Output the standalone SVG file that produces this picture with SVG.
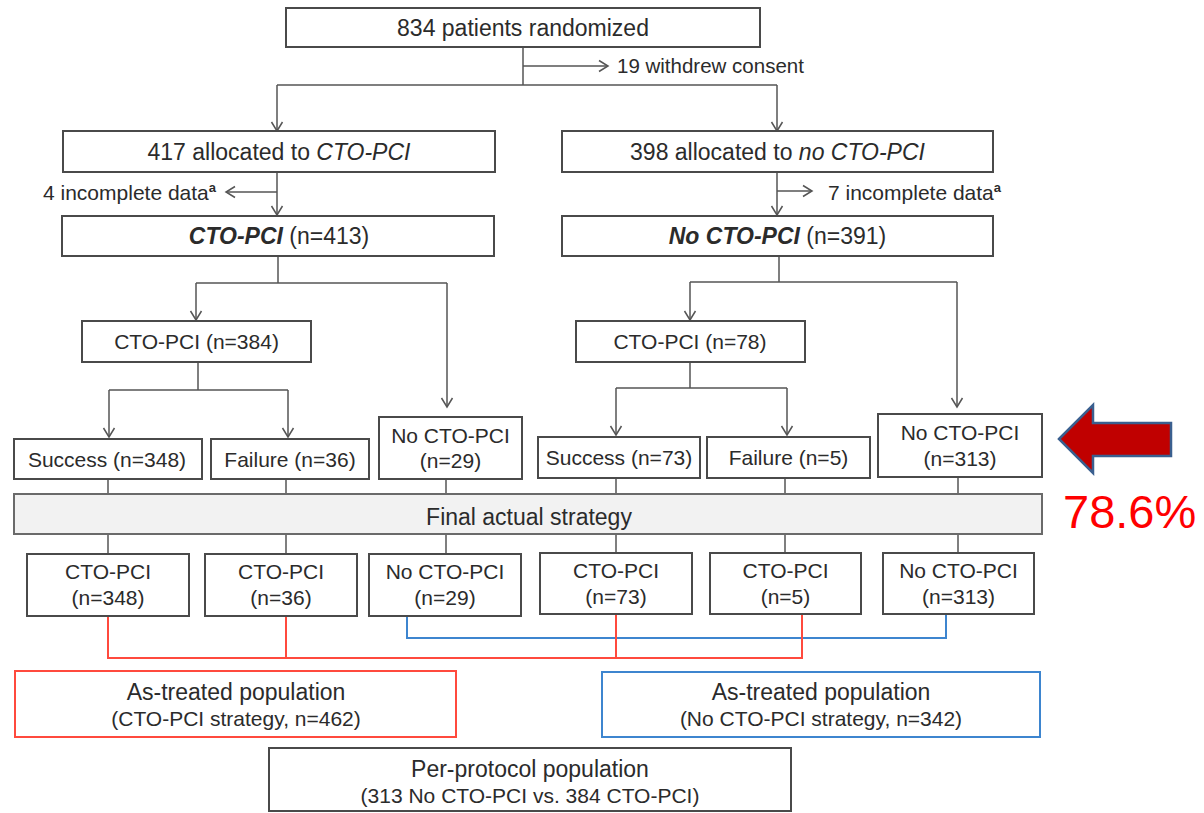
<svg xmlns="http://www.w3.org/2000/svg" width="1204" height="813" viewBox="0 0 1204 813">
<style>
text{font-family:"Liberation Sans",Arial,sans-serif;fill:#2b2b2b}
.box{fill:#fff;stroke:#4a4a4a;stroke-width:2}
.t23{font-size:23px;text-anchor:middle}
.t21{font-size:21px;text-anchor:middle}
.t20{font-size:20.5px}
.sub{font-size:21px;text-anchor:middle}
.sup{font-size:13px;font-weight:bold}
.ln{fill:none;stroke:#555;stroke-width:1.5}
.arr{marker-end:url(#ah)}
.red{fill:none;stroke:#ff4a3d;stroke-width:2}
.blue{fill:none;stroke:#3d85cf;stroke-width:2}
</style>
<defs>
<marker id="ah" viewBox="-11 -7 13 14" markerWidth="13" markerHeight="14" refX="0" refY="0" orient="auto" markerUnits="userSpaceOnUse">
<path d="M-9,-5.5 L0,0 L-9,5.5" fill="none" stroke="#555" stroke-width="1.5"/>
</marker>
</defs>
<rect width="1204" height="813" fill="#fff"/>

<g id="connectors">
<path class="ln" d="M523,47 V85 M277,85 H777"/>
<path class="ln arr" d="M523,66 H608"/>
<path class="ln arr" d="M277,85 V131"/>
<path class="ln arr" d="M777,85 V131"/>
<path class="ln arr" d="M277,172 V215"/>
<path class="ln arr" d="M277,192 H226"/>
<path class="ln arr" d="M777,172 V215"/>
<path class="ln arr" d="M777,191 H812"/>
<path class="ln" d="M278,256 V283 M196,283 H447"/>
<path class="ln arr" d="M196,283 V320"/>
<path class="ln arr" d="M447,283 V407"/>
<path class="ln" d="M779,256 V282 M690,282 H957"/>
<path class="ln arr" d="M690,282 V320"/>
<path class="ln arr" d="M957,282 V407"/>
<path class="ln" d="M198,362 V390 M109,390 H288"/>
<path class="ln arr" d="M109,390 V437"/>
<path class="ln arr" d="M288,390 V437"/>
<path class="ln" d="M690,362 V388 M616,388 H787"/>
<path class="ln arr" d="M616,388 V435"/>
<path class="ln arr" d="M787,388 V435"/>
<path class="ln" d="M108,479 V494 M286,479 V494 M446,479 V494 M616,478 V494 M785,478 V494 M958,477 V494"/>
<path class="ln" d="M108,534 V554 M286,534 V554 M446,534 V554 M616,534 V553 M785,534 V553 M958,534 V553"/>
<path class="blue" d="M407,616 V638 H946 V614"/>
<path class="red" d="M108,616 V658 H802 V614 M286,616 V658 M616,614 V658"/>
</g>

<g id="n-randomized">
<rect class="box" x="286" y="8" width="474" height="39"/>
<text class="t23" x="523" y="35.5">834 patients randomized</text>
</g>
<g id="n-withdrew">
<text class="t20" x="617" y="73">19 withdrew consent</text>
</g>
<g id="n-alloc-cto">
<rect class="box" x="63" y="131" width="432" height="41"/>
<text class="t23" x="279" y="159.5">417 allocated to <tspan font-style="italic">CTO-PCI</tspan></text>
</g>
<g id="n-alloc-nocto">
<rect class="box" x="562" y="131" width="431" height="41"/>
<text class="t23" x="777.5" y="159.5">398 allocated to <tspan font-style="italic">no CTO-PCI</tspan></text>
</g>
<g id="n-incomplete-left">
<text x="43" y="200" font-size="21">4 incomplete data<tspan class="sup" dy="-8">a</tspan></text>
</g>
<g id="n-incomplete-right">
<text x="828" y="200" font-size="21">7 incomplete data<tspan class="sup" dy="-8">a</tspan></text>
</g>
<g id="n-cto413">
<rect class="box" x="62" y="216" width="432" height="40"/>
<text class="t23" x="279" y="244"><tspan font-weight="bold" font-style="italic">CTO-PCI</tspan> (n=413)</text>
</g>
<g id="n-nocto391">
<rect class="box" x="562" y="216" width="431" height="40"/>
<text class="t23" x="777.5" y="244"><tspan font-weight="bold" font-style="italic">No CTO-PCI</tspan> (n=391)</text>
</g>
<g id="n-cto384">
<rect class="box" x="82" y="321" width="229" height="41"/>
<text class="t21" x="196.5" y="349">CTO-PCI (n=384)</text>
</g>
<g id="n-cto78">
<rect class="box" x="576" y="321" width="229" height="41"/>
<text class="t21" x="690" y="349">CTO-PCI (n=78)</text>
</g>
<g id="n-success348">
<rect class="box" x="14" y="439" width="188" height="40"/>
<text class="t21" x="107" y="466.5">Success (n=348)</text>
</g>
<g id="n-failure36">
<rect class="box" x="211" y="439" width="158" height="40"/>
<text class="t21" x="290" y="466.5">Failure (n=36)</text>
</g>
<g id="n-nocto29">
<rect class="box" x="379" y="417" width="143" height="62"/>
<text class="t21" x="450.5" y="443">No CTO-PCI</text>
<text class="t21" x="450.5" y="468">(n=29)</text>
</g>
<g id="n-success73">
<rect class="box" x="538" y="437" width="162" height="41"/>
<text class="t21" x="619" y="464.5">Success (n=73)</text>
</g>
<g id="n-failure5">
<rect class="box" x="707" y="437" width="163" height="41"/>
<text class="t21" x="788.5" y="464.5">Failure (n=5)</text>
</g>
<g id="n-nocto313">
<rect class="box" x="878" y="414" width="164" height="63"/>
<text class="t21" x="960" y="440">No CTO-PCI</text>
<text class="t21" x="960" y="466">(n=313)</text>
</g>
<g id="n-final">
<rect x="14" y="494" width="1028" height="40" fill="#f2f2f2" stroke="#6a6a6a" stroke-width="2"/>
<text class="t23" x="529" y="524.5">Final actual strategy</text>
</g>
<g id="n-f-cto348">
<rect class="box" x="27" y="554" width="162" height="62"/>
<text class="t21" x="108" y="579">CTO-PCI</text>
<text class="t21" x="108" y="605">(n=348)</text>
</g>
<g id="n-f-cto36">
<rect class="box" x="205" y="554" width="152" height="62"/>
<text class="t21" x="281" y="579">CTO-PCI</text>
<text class="t21" x="281" y="605">(n=36)</text>
</g>
<g id="n-f-nocto29">
<rect class="box" x="369" y="554" width="152" height="62"/>
<text class="t21" x="445" y="579">No CTO-PCI</text>
<text class="t21" x="445" y="605">(n=29)</text>
</g>
<g id="n-f-cto73">
<rect class="box" x="540" y="553" width="152" height="61"/>
<text class="t21" x="616" y="578">CTO-PCI</text>
<text class="t21" x="616" y="604">(n=73)</text>
</g>
<g id="n-f-cto5">
<rect class="box" x="710" y="553" width="151" height="61"/>
<text class="t21" x="785.5" y="578">CTO-PCI</text>
<text class="t21" x="785.5" y="604">(n=5)</text>
</g>
<g id="n-f-nocto313">
<rect class="box" x="883" y="553" width="151" height="61"/>
<text class="t21" x="958.5" y="578">No CTO-PCI</text>
<text class="t21" x="958.5" y="604">(n=313)</text>
</g>
<g id="n-astreated-cto">
<rect x="15" y="671" width="441" height="66" fill="#fff" stroke="#ff4a3d" stroke-width="2"/>
<text class="t23" x="236" y="700">As-treated population</text>
<text class="sub" x="236" y="726">(CTO-PCI strategy, n=462)</text>
</g>
<g id="n-astreated-nocto">
<rect x="602" y="672" width="438" height="65" fill="#fff" stroke="#3d85cf" stroke-width="2"/>
<text class="t23" x="821" y="700">As-treated population</text>
<text class="sub" x="821" y="726">(No CTO-PCI strategy, n=342)</text>
</g>
<g id="n-perprotocol">
<rect class="box" x="269" y="748" width="522" height="63"/>
<text class="t23" x="530" y="777">Per-protocol population</text>
<text class="sub" x="530" y="803">(313 No CTO-PCI vs. 384 CTO-PCI)</text>
</g>
<g id="n-highlight">
<polygon points="1059,439 1093,405 1093,423 1171,423 1171,456 1093,456 1093,473" fill="#c00000" stroke="#3a5f8f" stroke-width="2.5" stroke-linejoin="miter"/>
<text x="1063" y="528" font-size="47" style="fill:#ff0000">78.6%</text>
</g>
</svg>
